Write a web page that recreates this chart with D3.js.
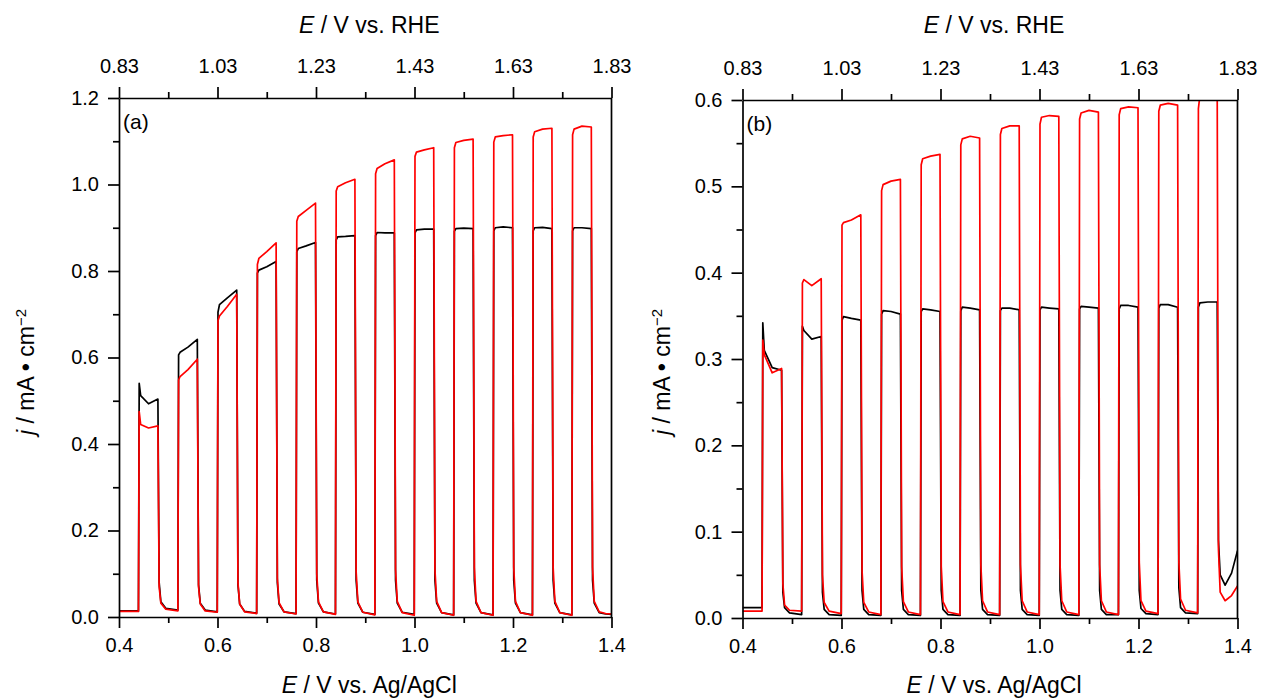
<!DOCTYPE html>
<html>
<head>
<meta charset="utf-8">
<script src="https://cdn.jsdelivr.net/npm/d3@7"></script>
<style>
  body { margin: 0; background: #fff; }
  text { font-family: "Liberation Sans", Arial, sans-serif; fill: #000; }
</style>
</head>
<body>
<script>
// potential vs. Ag/AgCl (shared sample positions of the chopped sweeps)
const eAgCl = [0.400, 0.4395,
  0.441, 0.444, 0.460, 0.479, 0.4815, 0.485, 0.495, 0.5195,
  0.521, 0.524, 0.540, 0.559, 0.5615, 0.565, 0.575, 0.5995,
  0.601, 0.604, 0.620, 0.639, 0.6415, 0.645, 0.655, 0.6795,
  0.681, 0.684, 0.700, 0.719, 0.7215, 0.725, 0.735, 0.7595,
  0.761, 0.764, 0.780, 0.799, 0.8015, 0.805, 0.815, 0.8395,
  0.841, 0.844, 0.860, 0.879, 0.8815, 0.885, 0.895, 0.9195,
  0.921, 0.924, 0.940, 0.959, 0.9615, 0.965, 0.975, 0.9995,
  1.001, 1.004, 1.020, 1.039, 1.0415, 1.045, 1.055, 1.0795,
  1.081, 1.084, 1.100, 1.119, 1.1215, 1.125, 1.135, 1.1595,
  1.161, 1.164, 1.180, 1.199, 1.2015, 1.205, 1.215, 1.2395,
  1.241, 1.244, 1.260, 1.279, 1.2815, 1.285, 1.295, 1.3195,
  1.321, 1.324, 1.340, 1.359, 1.3615, 1.365, 1.375, 1.388, 1.400]

// panel (a), mA/cm2
const jA_black = [0.014, 0.014,
  0.540, 0.512, 0.493, 0.504, 0.080, 0.035, 0.020, 0.016,
  0.606, 0.612, 0.624, 0.642, 0.075, 0.032, 0.016, 0.012,
  0.705, 0.722, 0.738, 0.756, 0.075, 0.030, 0.013, 0.009,
  0.795, 0.802, 0.810, 0.822, 0.080, 0.030, 0.012, 0.008,
  0.845, 0.852, 0.858, 0.866, 0.085, 0.032, 0.012, 0.007,
  0.872, 0.879, 0.880, 0.882, 0.085, 0.032, 0.011, 0.006,
  0.882, 0.889, 0.888, 0.888, 0.085, 0.032, 0.011, 0.006,
  0.888, 0.895, 0.897, 0.897, 0.085, 0.032, 0.010, 0.005,
  0.892, 0.898, 0.899, 0.898, 0.085, 0.032, 0.010, 0.005,
  0.893, 0.900, 0.902, 0.900, 0.085, 0.032, 0.010, 0.005,
  0.893, 0.900, 0.901, 0.898, 0.085, 0.032, 0.010, 0.005,
  0.893, 0.900, 0.900, 0.898, 0.085, 0.032, 0.010, 0.007, 0.006]
const jA_red = [0.013, 0.013,
  0.475, 0.445, 0.437, 0.442, 0.070, 0.032, 0.018, 0.014,
  0.548, 0.556, 0.572, 0.596, 0.070, 0.030, 0.014, 0.011,
  0.685, 0.696, 0.718, 0.746, 0.080, 0.030, 0.012, 0.008,
  0.815, 0.829, 0.845, 0.865, 0.090, 0.033, 0.012, 0.007,
  0.915, 0.926, 0.940, 0.957, 0.100, 0.035, 0.012, 0.006,
  0.985, 0.995, 1.004, 1.012, 0.105, 0.035, 0.011, 0.005,
  1.025, 1.037, 1.048, 1.057, 0.110, 0.036, 0.010, 0.004,
  1.065, 1.075, 1.080, 1.085, 0.110, 0.036, 0.010, 0.004,
  1.085, 1.097, 1.102, 1.105, 0.115, 0.036, 0.010, 0.004,
  1.098, 1.110, 1.113, 1.115, 0.115, 0.036, 0.010, 0.004,
  1.110, 1.122, 1.128, 1.130, 0.115, 0.036, 0.010, 0.004,
  1.115, 1.128, 1.135, 1.133, 0.115, 0.036, 0.012, 0.008, 0.007]

// panel (b), mA/cm2
const jB_black = [0.012, 0.012,
  0.342, 0.310, 0.290, 0.287, 0.030, 0.012, 0.006, 0.004,
  0.338, 0.333, 0.323, 0.326, 0.030, 0.010, 0.004, 0.003,
  0.345, 0.349, 0.347, 0.345, 0.032, 0.010, 0.004, 0.003,
  0.352, 0.356, 0.355, 0.352, 0.032, 0.010, 0.004, 0.003,
  0.355, 0.358, 0.357, 0.355, 0.032, 0.010, 0.004, 0.003,
  0.356, 0.360, 0.359, 0.357, 0.032, 0.010, 0.004, 0.003,
  0.356, 0.359, 0.359, 0.357, 0.032, 0.010, 0.004, 0.003,
  0.357, 0.360, 0.359, 0.358, 0.032, 0.010, 0.004, 0.003,
  0.358, 0.361, 0.360, 0.359, 0.032, 0.010, 0.004, 0.004,
  0.358, 0.362, 0.362, 0.360, 0.032, 0.011, 0.005, 0.004,
  0.359, 0.363, 0.363, 0.360, 0.035, 0.012, 0.006, 0.005,
  0.360, 0.365, 0.366, 0.366, 0.090, 0.050, 0.038, 0.052, 0.078]
const jB_red = [0.008, 0.008,
  0.322, 0.305, 0.284, 0.289, 0.040, 0.015, 0.009, 0.008,
  0.388, 0.392, 0.385, 0.393, 0.050, 0.018, 0.008, 0.005,
  0.455, 0.458, 0.461, 0.467, 0.055, 0.018, 0.007, 0.004,
  0.495, 0.502, 0.506, 0.508, 0.060, 0.019, 0.007, 0.004,
  0.525, 0.532, 0.535, 0.537, 0.060, 0.019, 0.007, 0.004,
  0.548, 0.555, 0.558, 0.556, 0.062, 0.020, 0.007, 0.004,
  0.560, 0.567, 0.570, 0.570, 0.062, 0.020, 0.007, 0.004,
  0.572, 0.580, 0.582, 0.581, 0.062, 0.020, 0.007, 0.004,
  0.578, 0.585, 0.588, 0.586, 0.062, 0.020, 0.007, 0.004,
  0.583, 0.590, 0.592, 0.591, 0.065, 0.020, 0.008, 0.005,
  0.587, 0.594, 0.596, 0.594, 0.065, 0.022, 0.009, 0.006,
  0.590, 0.605, 0.610, 0.610, 0.080, 0.030, 0.020, 0.026, 0.037]

// ticks
const xTicks = [0.4, 0.6, 0.8, 1.0, 1.2, 1.4]
const xMinor = [0.5, 0.7, 0.9, 1.1, 1.3]
const rheTicks = [0.83, 1.03, 1.23, 1.43, 1.63, 1.83]
const rheMinor = [0.93, 1.13, 1.33, 1.53, 1.73]
const yTicksA = [0.0, 0.2, 0.4, 0.6, 0.8, 1.0, 1.2]
const yMinorA = [0.1, 0.3, 0.5, 0.7, 0.9, 1.1]
const yTicksB = [0.0, 0.1, 0.2, 0.3, 0.4, 0.5, 0.6]
const yMinorB = [0.05, 0.15, 0.25, 0.35, 0.45, 0.55]

const svg = d3.select("body").append("svg")
    .attr("width", 1262)
    .attr("height", 700)

function styleAxis(g) {
    g.attr("font-family", null).attr("font-size", null)
    g.selectAll("text").style("font-size", "20px")
    g.selectAll("line, path").attr("stroke", "#000").attr("stroke-width", 1.7)
}

function panel(p) {
    const x = d3.scaleLinear().domain([0.4, 1.4]).range([p.left, p.right])
    const xTop = d3.scaleLinear().domain([0.83, 1.83]).range([p.left, p.right])
    const y = d3.scaleLinear().domain([0, p.yMax]).range([p.bottom, p.top])

    const clipId = "clip" + p.tag.replace(/\W/g, "")
    svg.append("clipPath").attr("id", clipId)
        .append("rect")
        .attr("x", p.left).attr("y", p.top)
        .attr("width", p.right - p.left).attr("height", p.bottom - p.top)

    const line = d3.line()
        .x(function(d) { return x(d[0]) })
        .y(function(d) { return y(d[1]) })

    const plot = svg.append("g").attr("clip-path", `url(#${clipId})`)
    ;[[p.black, "#000000"], [p.red, "#ff0000"]].forEach(([vals, col]) => {
        plot.append("path")
            .datum(eAgCl.map((e, i) => [e, vals[i]]))
            .attr("fill", "none")
            .attr("stroke", col)
            .attr("stroke-width", 1.7)
            .attr("stroke-linejoin", "round")
            .attr("d", line)
    })

    // bottom
    svg.append("g").attr("transform", `translate(0,${p.bottom})`)
        .call(d3.axisBottom(x).tickValues(xTicks).tickFormat(d3.format(".1f"))
            .tickSize(11).tickSizeOuter(0).tickPadding(10))
        .call(styleAxis)
    svg.append("g").attr("transform", `translate(0,${p.bottom})`)
        .call(d3.axisBottom(x).tickValues(xMinor).tickFormat("").tickSize(6))
        .call(styleAxis).call(g => g.select(".domain").remove())

    // top (RHE)
    svg.append("g").attr("transform", `translate(0,${p.top})`)
        .call(d3.axisTop(xTop).tickValues(rheTicks).tickFormat(d3.format(".2f"))
            .tickSize(11).tickSizeOuter(0).tickPadding(14))
        .call(styleAxis)
    svg.append("g").attr("transform", `translate(0,${p.top})`)
        .call(d3.axisTop(xTop).tickValues(rheMinor).tickFormat("").tickSize(6))
        .call(styleAxis).call(g => g.select(".domain").remove())

    // left
    svg.append("g").attr("transform", `translate(${p.left},0)`)
        .call(d3.axisLeft(y).tickValues(p.yTicks).tickFormat(d3.format(".1f"))
            .tickSize(11).tickSizeOuter(0).tickPadding(9))
        .call(styleAxis)
    svg.append("g").attr("transform", `translate(${p.left},0)`)
        .call(d3.axisLeft(y).tickValues(p.yMinor).tickFormat("").tickSize(6))
        .call(styleAxis).call(g => g.select(".domain").remove())

    // right frame
    svg.append("line")
        .attr("x1", p.right).attr("x2", p.right)
        .attr("y1", p.top).attr("y2", p.bottom)
        .attr("stroke", "#000").attr("stroke-width", 1.7)

    svg.append("text")
        .attr("x", p.left + 4).attr("y", p.top + 31)
        .style("font-size", "21px")
        .text(p.tag)

    const cx = (p.left + p.right) / 2
    const top = svg.append("text")
        .attr("x", cx + 4).attr("y", 33)
        .attr("text-anchor", "middle")
        .style("font-size", "23px")
    top.append("tspan").style("font-style", "italic").text("E")
    top.append("tspan").text(" / V vs. RHE")

    const bot = svg.append("text")
        .attr("x", cx + 4).attr("y", 693)
        .attr("text-anchor", "middle")
        .style("font-size", "23px")
    bot.append("tspan").style("font-style", "italic").text("E")
    bot.append("tspan").text(" / V vs. Ag/AgCl")

    const yl = svg.append("text")
        .attr("transform", `translate(${p.ylabX},372) rotate(-90)`)
        .attr("text-anchor", "middle")
        .style("font-size", "23px")
    yl.append("tspan").style("font-style", "italic").text("j")
    yl.append("tspan").text(" / mA \u2022 cm")
    yl.append("tspan").attr("dy", "-0.55em").style("font-size", "15px").text("\u22122")
}

panel({ left: 119, right: 611.5, top: 98, bottom: 617, yMax: 1.2,
        yTicks: yTicksA, yMinor: yMinorA, black: jA_black, red: jA_red,
        tag: "(a)", ylabX: 34 })
panel({ left: 742.5, right: 1237.5, top: 100, bottom: 618, yMax: 0.6,
        yTicks: yTicksB, yMinor: yMinorB, black: jB_black, red: jB_red,
        tag: "(b)", ylabX: 670 })
</script>
</body>
</html>
